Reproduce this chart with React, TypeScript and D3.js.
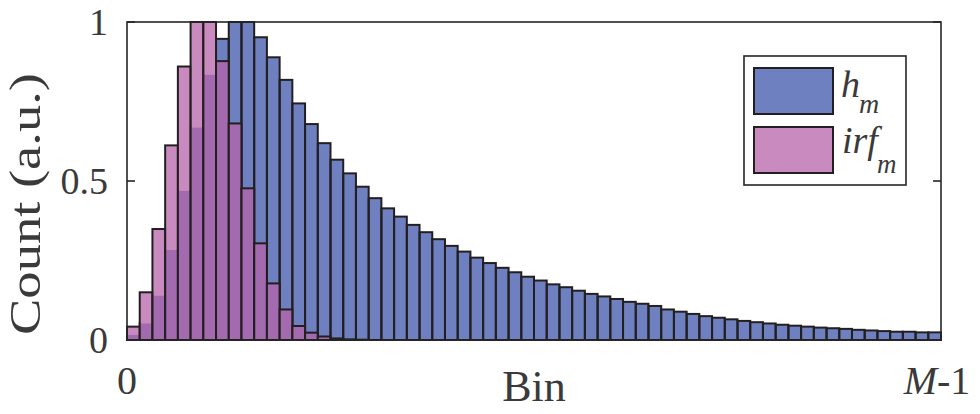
import React from "react";
import * as d3 from "d3";

const hValues = [
  0.016, 0.052, 0.139, 0.283, 0.469, 0.668, 0.834, 0.947, 1.0, 1.0,
  0.952, 0.889, 0.818, 0.744, 0.679, 0.619, 0.567, 0.524, 0.482, 0.446,
  0.414, 0.388, 0.362, 0.339, 0.317, 0.296, 0.278, 0.259, 0.242, 0.227,
  0.213, 0.199, 0.187, 0.175, 0.166, 0.155, 0.145, 0.137, 0.129, 0.12,
  0.114, 0.107, 0.096, 0.089, 0.082, 0.075, 0.07, 0.065, 0.06, 0.056,
  0.052, 0.048, 0.045, 0.042, 0.039, 0.037, 0.035, 0.032, 0.03, 0.028,
  0.026, 0.026, 0.024, 0.024,
];
const irfValues = [
  0.042, 0.15, 0.349, 0.612, 0.86, 1.0, 1.0, 0.877, 0.681, 0.477,
  0.304, 0.178, 0.096, 0.044, 0.023, 0.011, 0.005, 0.002, 0.001, 0,
  0, 0, 0, 0, 0, 0, 0, 0, 0, 0, 0, 0, 0, 0, 0, 0, 0, 0, 0, 0,
  0, 0, 0, 0, 0, 0, 0, 0, 0, 0, 0, 0, 0, 0, 0, 0, 0, 0, 0, 0,
  0, 0, 0, 0,
];
const yTicks = [0, 0.5, 1];
const yTickLabels = ["0", "0.5", "1"];
const xTickValues = [0, 64];

const W = 980;
const H = 414;
const M = { left: 127, right: 39, top: 22, bottom: 74 };

const FONT = "'Liberation Serif', 'Times New Roman', Times, serif";
const AX = "#262626";
const TXT = "#3a3a3a";
const EDGE = "#231f20";
const BLUE = "#6f80c0";
const PINK_BASE = "rgb(182,99,168)";
const PINK_ALPHA = 0.74;

export default function App() {
  const nBins = hValues.length;
  const x = d3.scaleLinear().domain([0, nBins]).range([M.left, W - M.right]);
  const y = d3.scaleLinear().domain([0, 1]).range([H - M.bottom, M.top]);
  const x0 = x.range()[0];
  const x1 = x.range()[1];
  const y0 = y.range()[0];
  const y1 = y.range()[1];

  return (
    <svg
      width={W}
      height={H}
      style={{ position: "absolute", left: 0, top: 0, display: "block", background: "#fff" }}
    >
      <defs>
        <mask id="underPink" maskUnits="userSpaceOnUse" x={0} y={0} width={W} height={H}>
          <rect x={0} y={0} width={W} height={H} fill="#fff" />
          {irfValues.map((v, i) =>
            v > 0 ? (
              <rect
                key={"m" + i}
                x={x(i) + 1}
                y={y(v) + 1}
                width={x(i + 1) - x(i) - 2}
                height={Math.max(0, y(0) - y(v) - 2)}
                fill="#000"
              />
            ) : null
          )}
        </mask>
      </defs>
      <g>
        {hValues.map((v, i) => (
          <rect
            key={"hf" + i}
            x={x(i)}
            y={y(v)}
            width={x(i + 1) - x(i)}
            height={y(0) - y(v)}
            fill={BLUE}
          />
        ))}
      </g>
      <g mask="url(#underPink)">
        {hValues.map((v, i) => (
          <rect
            key={"he" + i}
            x={x(i)}
            y={y(v)}
            width={x(i + 1) - x(i)}
            height={y(0) - y(v)}
            fill="none"
            stroke={EDGE}
            strokeWidth={2}
          />
        ))}
      </g>
      <g>
        {irfValues.map((v, i) =>
          v > 0 ? (
            <rect
              key={"i" + i}
              x={x(i)}
              y={y(v)}
              width={x(i + 1) - x(i)}
              height={y(0) - y(v)}
              fill={PINK_BASE}
              fillOpacity={PINK_ALPHA}
              stroke={EDGE}
              strokeWidth={2}
            />
          ) : null
        )}
      </g>
      <rect x={x0} y={y1} width={x1 - x0} height={y0 - y1} fill="none" stroke={AX} strokeWidth={1.6} />
      {yTicks.map((t) => (
        <g key={"yt" + t}>
          <line x1={x0} x2={x0 + 8} y1={y(t)} y2={y(t)} stroke={AX} strokeWidth={1.6} />
          <line x1={x1} x2={x1 - 8} y1={y(t)} y2={y(t)} stroke={AX} strokeWidth={1.6} />
        </g>
      ))}
      {yTicks.map((t, i) => (
        <text
          key={"yl" + t}
          x={x0 - 19}
          y={y(t) + 13}
          textAnchor="end"
          fontFamily={FONT}
          fontSize={38}
          fill={TXT}
        >
          {yTickLabels[i]}
        </text>
      ))}
      <text x={x(xTickValues[0])} y={394} textAnchor="middle" fontFamily={FONT} fontSize={40} fill={TXT}>
        0
      </text>
      <text x={x(xTickValues[1]) - 4} y={394} textAnchor="middle" fontFamily={FONT} fontSize={40} fill={TXT}>
        <tspan fontStyle="italic">M</tspan>
        <tspan>-1</tspan>
      </text>
      <text x={(x0 + x1) / 2} y={401} textAnchor="middle" fontFamily={FONT} fontSize={44} fill={TXT}>
        Bin
      </text>
      <text
        transform={`translate(40, 204) rotate(-90)`}
        textAnchor="middle"
        fontFamily={FONT}
        fontSize={44}
        fill={TXT}
        textLength={262}
        lengthAdjust="spacingAndGlyphs"
      >
        Count (a.u.)
      </text>
      <g>
        <rect x={744} y={56} width={162} height={129} fill="#fff" stroke={AX} strokeWidth={1.6} />
        <rect x={754} y={68} width={79} height={46} fill={BLUE} stroke={EDGE} strokeWidth={2} />
        <rect x={754} y={127} width={79} height={46} fill={PINK_BASE} fillOpacity={PINK_ALPHA} stroke={EDGE} strokeWidth={2} />
        <text x={841} y={97} fontFamily={FONT} fontSize={38} fontStyle="italic" fill={TXT}>
          h
        </text>
        <text x={859} y={113} fontFamily={FONT} fontSize={28} fontStyle="italic" fill={TXT}>
          m
        </text>
        <text x={842} y={153} fontFamily={FONT} fontSize={38} fontStyle="italic" fill={TXT}>
          irf
        </text>
        <text x={877} y={173} fontFamily={FONT} fontSize={27} fontStyle="italic" fill={TXT}>
          m
        </text>
      </g>
    </svg>
  );
}
